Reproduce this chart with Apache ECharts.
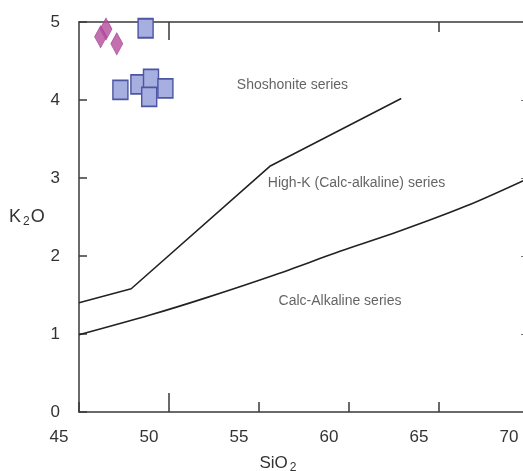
<!DOCTYPE html>
<html>
<head>
<meta charset="utf-8">
<script src="https://cdn.jsdelivr.net/npm/echarts@6/dist/echarts.min.js"></script>
<style>
html,body{margin:0;padding:0;background:#fff;}
#chart{width:523px;height:471px;}
</style>
</head>
<body>
<div id="chart"></div>
<script>
// ---- data ----
var xTicks = [45, 50, 55, 60, 65, 70];
var yTicks = [0, 1, 2, 3, 4, 5];
// boundary lines [SiO2, K2O]
var shoshoniteBoundary = [[45, 1.40], [47.9, 1.58], [55.6, 3.15], [62.9, 4.02]];
var highKBoundary = [[45, 0.99], [48.9, 1.24], [52, 1.46], [55.9, 1.76], [59.5, 2.06], [62.7, 2.31], [66.5, 2.64], [70, 3.0]];
// samples
var diamondSamples = [[46.5, 4.91], [46.2, 4.81], [47.1, 4.72]];
var squareSamples = [[48.7, 4.92], [47.3, 4.13], [48.3, 4.20], [49.0, 4.27], [49.8, 4.15], [48.9, 4.04]];
// field labels [x, y, text]
var zoneLabels = [
  [56.86, 4.19, 'Shoshonite series'],
  [60.42, 2.94, 'High-K (Calc-alkaline) series'],
  [59.5, 1.42, 'Calc-Alkaline series']
];

var axisColor = '#3a3a3a';
var font = 'Liberation Sans, Arial, sans-serif';

var chart = echarts.init(document.getElementById('chart'), null, {renderer: 'canvas'});
var hidden = {show: false};
function tickAxis(pos, vals, len) {
  return {
    type: 'value', position: pos, min: 45, max: 70, interval: 5,
    axisLine: {show: false, onZero: false}, splitLine: hidden, axisLabel: hidden,
    axisTick: {show: true, inside: true, length: len, customValues: vals,
      lineStyle: {color: axisColor, width: 1.5}}
  };
}
var option = {
  animation: false,
  backgroundColor: '#fff',
  grid: {left: 79, top: 22, width: 450, height: 390, containLabel: false, outerBoundsMode: 'none'},
  xAxis: [
    {
      type: 'value', position: 'bottom', min: 45, max: 70, interval: 5,
      axisLine: {show: true, onZero: false, lineStyle: {color: axisColor, width: 1.5}},
      axisTick: {show: true, inside: true, length: 10, lineStyle: {color: axisColor, width: 1.5}},
      splitLine: hidden,
      axisLabel: {
        show: true, margin: 17, fontSize: 17, color: '#333', fontFamily: font,
        padding: [0, 40, 0, 0],
        formatter: function (v) { return xTicks.indexOf(v) >= 0 ? String(v) : ''; }
      },
      name: 'SiO{sub|2}', nameLocation: 'middle', nameGap: 40,
      nameTextStyle: {
        fontSize: 17, color: '#333', fontFamily: font, padding: [0, 52, 0, 0],
        rich: {sub: {fontSize: 12, color: '#333', fontFamily: font, verticalAlign: 'bottom', padding: [10, 0, 0, 2]}}
      }
    },
    tickAxis('bottom', [50], 19),
    {
      type: 'value', position: 'top', min: 45, max: 70, interval: 5,
      axisLine: {show: true, onZero: false, lineStyle: {color: axisColor, width: 1.5}},
      splitLine: hidden, axisLabel: hidden,
      axisTick: {show: true, inside: true, length: 18, customValues: [50], lineStyle: {color: axisColor, width: 1.5}}
    },
    tickAxis('top', [65], 10)
  ],
  yAxis: [
    {
      type: 'value', min: 0, max: 5, interval: 1, position: 'left',
      axisLine: {show: true, onZero: false, lineStyle: {color: axisColor, width: 1.5}},
      axisTick: {show: true, inside: true, length: 8, lineStyle: {color: axisColor, width: 1.5}},
      splitLine: hidden,
      axisLabel: {
        show: true, margin: 19, fontSize: 17, color: '#333', fontFamily: font,
        formatter: function (v) { return yTicks.indexOf(v) >= 0 ? String(v) : ''; }
      },
      name: 'K{sub|2}O', nameLocation: 'middle', nameRotate: 0, nameGap: 29,
      nameTextStyle: {
        fontSize: 18, color: '#333', fontFamily: font,
        rich: {sub: {fontSize: 12, color: '#333', fontFamily: font, padding: [10, 1, 0, 2]}}
      }
    },
    {
      type: 'value', min: 0, max: 5, interval: 1, position: 'right',
      axisLine: {show: true, onZero: false, lineStyle: {color: axisColor, width: 1.5}},
      axisTick: {show: true, inside: true, length: 8, customValues: [1, 2, 3, 4], lineStyle: {color: '#777', width: 1.2}},
      splitLine: hidden, axisLabel: hidden
    }
  ],
  series: [
    {
      type: 'line', name: 'Shoshonite boundary', data: shoshoniteBoundary,
      symbol: 'none', lineStyle: {color: '#222', width: 1.6}, z: 3
    },
    {
      type: 'line', name: 'High-K boundary', data: highKBoundary, smooth: 0.3,
      symbol: 'none', lineStyle: {color: '#222', width: 1.6}, z: 3
    },
    {
      type: 'scatter', name: 'labels', data: zoneLabels.map(function (d) { return [d[0], d[1], d[2]]; }),
      symbolSize: 0, silent: true,
      label: {show: true, position: 'inside', formatter: function (p) { return p.data[2]; },
        fontSize: 14, color: '#3c3c3c', fontFamily: font}
    },
    {
      type: 'scatter', name: 'diamonds', data: diamondSamples, clip: false,
      symbol: 'diamond', symbolSize: [12, 22],
      itemStyle: {color: '#b44c9e', borderColor: '#a2418f', borderWidth: 0.8}, z: 5
    },
    {
      type: 'scatter', name: 'squares', data: squareSamples, clip: false,
      symbol: 'rect', symbolSize: [15, 19],
      itemStyle: {color: '#a7aee0', borderColor: '#4d56a2', borderWidth: 1.6, opacity: 1}, z: 5
    }
  ]
};
chart.setOption(option);
</script>
</body>
</html>
